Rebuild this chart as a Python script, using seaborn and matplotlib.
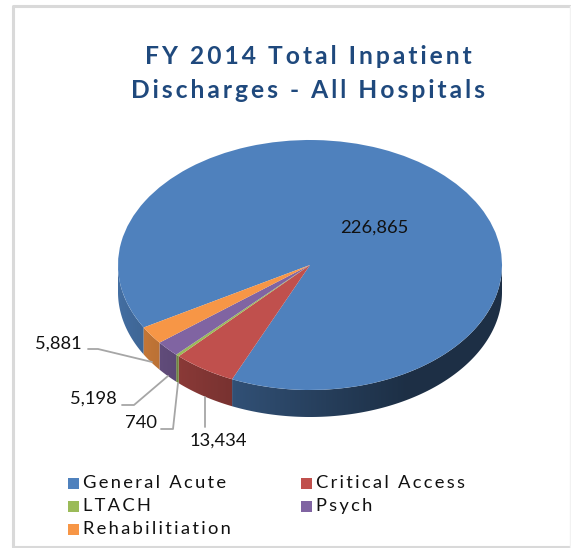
import numpy as np
import matplotlib.pyplot as plt
import matplotlib.colors as mcolors
from matplotlib.patches import Polygon
import seaborn as sns

W, H = 571, 548

# values
categories = ['General Acute', 'Critical Access', 'LTACH', 'Psych', 'Rehabilitiation']
discharges = [226865, 13434, 740, 5198, 5881]
value_labels = ['226,865', '13,434', '740', '5,198', '5,881']
title_lines = ['FY 2014 Total Inpatient', 'Discharges - All Hospitals']
colors = ['#4f81bd', '#c0504d', '#9bbb59', '#8064a2', '#f79646']

START_ANGLE = 210
CX, CY, RX, RY = 310, 265, 192, 125
DEPTH = 27
HAIR = '\u200a'


def spaced(s, n=1):
    # the original text is letter-spaced, matplotlib has no tracking option
    return (HAIR * n).join(s)


sns.set_theme(style='white')
plt.rcParams['font.family'] = ['Lato', 'DejaVu Sans']

fig = plt.figure(figsize=(W / 100, H / 100), dpi=100, facecolor='white')
ax = fig.add_axes([0, 0, 1, 1])

# top face of the pie, squashed through the axis limits
ax.pie(discharges, colors=sns.color_palette(colors), startangle=START_ANGLE,
       counterclock=False, radius=1, wedgeprops={'linewidth': 0, 'zorder': 3})


def px(x, y):
    return (x - CX) / RX, (CY - y) / RY


# side wall, a horizontal gradient clipped to the visible part of each slice
d = DEPTH / RY
edges = START_ANGLE - np.cumsum([0] + discharges) / sum(discharges) * 360
xgrid = np.linspace(-1, 1, 400)
shade = np.maximum(0.86 - 0.62 * ((xgrid + 1) / 2) ** 0.8, 0.37)
for v0, v1, col in zip(edges[:-1], edges[1:], colors):
    ang = np.radians(np.linspace(v1, v0, 1500))
    vis = np.sin(ang) <= 0
    runs = np.split(ang[vis], np.where(np.diff(np.where(vis)[0]) > 1)[0] + 1)
    grad = shade[None, :, None] * np.array(mcolors.to_rgb(col))[None, None, :]
    for run in runs:
        if len(run) < 2:
            continue
        xs = np.r_[np.cos(run), np.cos(run[::-1])]
        ys = np.r_[np.sin(run), np.sin(run[::-1]) - d]
        poly = Polygon(np.c_[xs, ys], closed=True, transform=ax.transData, fc='none', lw=0)
        ax.add_patch(poly)
        im = ax.imshow(grad, extent=(-1, 1, -2, 2), aspect='auto', zorder=2,
                       interpolation='bilinear')
        im.set_clip_path(poly)

ax.set_aspect('auto')
ax.set_xlim((0 - CX) / RX, (W - CX) / RX)
ax.set_ylim((CY - H) / RY, (CY - 0) / RY)
ax.axis('on')
ax.set_xticks([])
ax.set_yticks([])
for s in ax.spines.values():
    s.set_visible(False)

# leader lines
leaders = [
    [(88, 349), (98, 349), (152, 362)],
    [(122, 405), (134, 405), (168, 376)],
    [(161, 429), (173, 429), (178, 383)],
    [(205, 427), (205, 397)],
]
for pts in leaders:
    xy = np.array([px(*p) for p in pts])
    ax.plot(xy[:, 0], xy[:, 1], color='#a6a6a6', lw=1.3, zorder=4)

# value labels
label_pos = {'226,865': (374, 228), '5,881': (58, 344), '5,198': (93, 399),
             '740': (141, 423), '13,434': (218, 441)}
for lab in value_labels:
    x, y = px(*label_pos[lab])
    ax.text(x, y, lab, ha='center', va='center', fontsize=13.2, color='#111111', zorder=5)

# title
for line, y in zip(title_lines, [56, 90]):
    x, yy = px(308, y)
    ax.text(x, yy, spaced(line, 2), ha='center', va='center', fontsize=17.7,
            fontweight='bold', color='#1f497d')

# legend, laid out like the office one
legend_pos = [(68, 483), (301, 483), (68, 506), (301, 506), (68, 529)]
for name, col, (lx, ly) in zip(categories, colors, legend_pos):
    x0, y0 = px(lx, ly + 5.5)
    x1, y1 = px(lx + 11, ly - 5.5)
    ax.fill([x0, x1, x1, x0], [y0, y0, y1, y1], color=col, lw=0)
    x, y = px(lx + 15, ly)
    ax.text(x, y, spaced(name, 2), ha='left', va='center', fontsize=13.2, color='#111111')

# chart border, the right side is almost gone in the source
bx, by = px(np.array([569.5, 12.5, 12.5, 569.5]), np.array([6, 6, 547, 547]))
ax.plot(bx, by, color='#d9d9d9', lw=2.2)
bx, by = px(np.array([569.5, 569.5]), np.array([6, 547]))
ax.plot(bx, by, color='#f2f2f2', lw=1)

fig.savefig('out.png', dpi=100)
